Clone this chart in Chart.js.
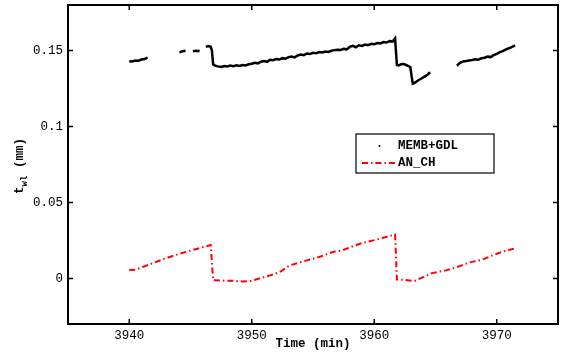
<!DOCTYPE html>
<html>
<head>
<meta charset="utf-8">
<script src="https://cdn.jsdelivr.net/npm/chart.js@4/dist/chart.umd.min.js"></script>
<style>
  html, body { margin: 0; padding: 0; background: #fff; }
  #wrap { width: 561px; height: 356px; position: relative; }
</style>
</head>
<body>
<div id="wrap"><canvas id="chart"></canvas></div>
<script>
// MEMB+GDL (black dots), null = gap in the record
const memTime = [
  3940.00, 3940.25, 3940.50, 3940.75, 3941.00, 3941.25, 3941.50, 3942.80,
  3944.10, 3944.35, 3944.60, 3944.90,
  3945.20, 3945.45, 3945.75, 3946.00,
  3946.25, 3946.45, 3946.65, 3946.75, 3946.85,
  3947.00, 3947.25, 3947.50, 3947.75, 3948.00, 3948.25, 3948.50, 3948.75,
  3949.00, 3949.25, 3949.50, 3949.75, 3950.00, 3950.25, 3950.50, 3950.75,
  3951.00, 3951.25, 3951.50, 3951.75, 3952.00, 3952.25, 3952.50, 3952.75,
  3953.00, 3953.25, 3953.50, 3953.75, 3954.00, 3954.25, 3954.50, 3954.75,
  3955.00, 3955.25, 3955.50, 3955.75, 3956.00, 3956.25, 3956.50, 3956.75,
  3957.00, 3957.25, 3957.50, 3957.75, 3958.00, 3958.25, 3958.50, 3958.75,
  3959.00, 3959.25, 3959.50, 3959.75, 3960.00, 3960.25, 3960.50, 3960.75,
  3961.00, 3961.25, 3961.50, 3961.70, 3961.85,
  3962.00, 3962.20, 3962.40, 3962.60, 3962.80, 3962.95, 3963.05, 3963.15,
  3963.35, 3963.60, 3963.85, 3964.10, 3964.35, 3964.55, 3965.50,
  3966.75, 3967.00, 3967.25, 3967.50, 3967.75, 3968.00, 3968.25, 3968.50,
  3968.75, 3969.00, 3969.25, 3969.50, 3969.75, 3970.00, 3970.25, 3970.50,
  3970.75, 3971.00, 3971.25, 3971.50
];
const memValue = [
  0.1430, 0.1428, 0.1435, 0.1433, 0.1441, 0.1444, 0.1453, null,
  0.1488, 0.1496, 0.1499, null,
  0.1495, 0.1499, 0.1497, null,
  0.1524, 0.1530, 0.1525, 0.1500, 0.1410,
  0.1401, 0.1396, 0.1392, 0.1398, 0.1395, 0.1401, 0.1397, 0.1403,
  0.1399, 0.1405, 0.1402, 0.1410, 0.1413, 0.1419, 0.1416, 0.1427,
  0.1431, 0.1426, 0.1440, 0.1437, 0.1445, 0.1441, 0.1450, 0.1446,
  0.1457, 0.1461, 0.1455, 0.1468, 0.1474, 0.1470, 0.1481, 0.1477,
  0.1485, 0.1482, 0.1490, 0.1487, 0.1494, 0.1491, 0.1499, 0.1503,
  0.1506, 0.1504, 0.1511, 0.1508, 0.1524, 0.1531, 0.1522, 0.1535,
  0.1531, 0.1540, 0.1536, 0.1545, 0.1542, 0.1550, 0.1547, 0.1556,
  0.1553, 0.1562, 0.1559, 0.1580, 0.1405,
  0.1402, 0.1410, 0.1412, 0.1405, 0.1398, 0.1390, 0.1330, 0.1282,
  0.1290, 0.1305, 0.1316, 0.1328, 0.1340, 0.1358, null,
  0.1400, 0.1420, 0.1428, 0.1431, 0.1435, 0.1438, 0.1442, 0.1440,
  0.1449, 0.1453, 0.1460, 0.1457, 0.1470, 0.1478, 0.1490, 0.1496,
  0.1508, 0.1515, 0.1524, 0.1534
];

// AN_CH (red dash-dot)
const anTime = [
  3940.0, 3940.5, 3941.0, 3942.0, 3943.0, 3944.0, 3945.0, 3946.0, 3946.65,
  3946.85, 3947.5, 3948.5, 3949.3, 3950.0, 3950.7, 3951.5, 3952.3, 3953.1,
  3954.5, 3955.5, 3956.7, 3957.4, 3958.2, 3959.0, 3960.0, 3960.65, 3961.7,
  3961.85, 3962.5, 3963.25, 3964.0, 3964.7, 3965.85, 3966.9, 3967.7, 3968.8,
  3969.6, 3970.4, 3971.4
];
const anValue = [
  0.0055, 0.0058, 0.0072, 0.0103, 0.0133, 0.0160, 0.0183, 0.0205, 0.0220,
  -0.0012, -0.0014, -0.0016, -0.0020, -0.0016, 0.0002, 0.0020, 0.0042, 0.0086,
  0.0119, 0.0141, 0.0176, 0.0185, 0.0210, 0.0233, 0.0252, 0.0266, 0.0289,
  -0.0007, -0.0010, -0.0018, 0.0008, 0.0035, 0.0053, 0.0078, 0.0104, 0.0123,
  0.0150, 0.0174, 0.0196
];

const seriesLabels = ["MEMB+GDL", "AN_CH"];
const xTicks = [3940, 3950, 3960, 3970];
const xTickLabels = ["3940", "3950", "3960", "3970"];
const yTicks = [0, 0.05, 0.1, 0.15];
const yTickLabels = ["0", "0.05", "0.1", "0.15"];

const MONO = "'Liberation Mono', 'Courier New', monospace";

// box, inward ticks, legend and y title, drawn the matlab way
const framePlugin = {
  id: "frame",
  afterDatasetsDraw(chart) {
    const { ctx, chartArea: a, scales } = chart;
    ctx.save();
    ctx.strokeStyle = "#000";
    ctx.lineWidth = 1.5;
    ctx.beginPath();
    xTicks.forEach((v) => {
      const px = scales.x.getPixelForValue(v);
      ctx.moveTo(px, a.bottom);
      ctx.lineTo(px, a.bottom - 5);
      ctx.moveTo(px, a.top);
      ctx.lineTo(px, a.top + 5);
    });
    yTicks.forEach((v) => {
      const py = scales.y.getPixelForValue(v);
      ctx.moveTo(a.left, py);
      ctx.lineTo(a.left + 5, py);
      ctx.moveTo(a.right, py);
      ctx.lineTo(a.right - 5, py);
    });
    ctx.stroke();
    ctx.lineWidth = 2;
    ctx.strokeRect(a.left, a.top, a.right - a.left, a.bottom - a.top);

    // legend box
    const ds = chart.data.datasets;
    ctx.fillStyle = "#fff";
    ctx.fillRect(356, 134, 138, 39);
    ctx.lineWidth = 1.2;
    ctx.strokeRect(356, 134, 138, 39);
    ctx.font = "bold 12.5px " + MONO;
    ctx.textBaseline = "middle";
    ctx.fillStyle = "#000";
    ctx.fillText(ds[0].label, 398, 146);
    ctx.fillText(ds[1].label, 398, 163);
    ctx.beginPath();
    ctx.arc(379.5, 146, 1, 0, Math.PI * 2);
    ctx.fill();
    ctx.strokeStyle = ds[1].borderColor;
    ctx.lineWidth = 2;
    ctx.setLineDash(ds[1].borderDash);
    ctx.beginPath();
    ctx.moveTo(362, 163);
    ctx.lineTo(395, 163);
    ctx.stroke();
    ctx.setLineDash([]);

    // y title: t_wl (mm)
    ctx.translate(20, 194);
    ctx.rotate(-Math.PI / 2);
    ctx.fillStyle = "#000";
    ctx.textBaseline = "middle";
    ctx.font = "bold 12.5px " + MONO;
    ctx.fillText("t", 0, 0);
    ctx.font = "bold 9px " + MONO;
    ctx.fillText("wl", 7.5, 5);
    ctx.font = "bold 12.5px " + MONO;
    ctx.fillText(" (mm)", 18.5, 0);
    ctx.restore();
  },
};

document.addEventListener("DOMContentLoaded", () => {
  const ctx = document.getElementById("chart").getContext("2d");
  new Chart(ctx, {
    type: "line",
    data: {
      datasets: [
        {
          label: seriesLabels[0],
          data: memTime.map((t, i) => ({ x: t, y: memValue[i] })),
          borderColor: "#000",
          borderWidth: 2.5,
          pointRadius: 0,
          spanGaps: false,
          tension: 0,
        },
        {
          label: seriesLabels[1],
          data: anTime.map((t, i) => ({ x: t, y: anValue[i] })),
          borderColor: "#ff0000",
          borderWidth: 2,
          borderDash: [6, 3, 1.5, 3],
          pointRadius: 0,
          tension: 0,
        },
      ],
    },
    options: {
      responsive: true,
      maintainAspectRatio: false,
      animation: false,
      layout: { padding: { left: 0, right: 3, top: 5, bottom: 0 } },
      scales: {
        x: {
          type: "linear",
          min: 3935,
          max: 3975,
          afterBuildTicks: (scale) => {
            scale.ticks = xTicks.map((v) => ({ value: v }));
          },
          afterFit: (scale) => {
            scale.height = 32;
            scale.paddingLeft = 0;
            scale.paddingRight = 0;
          },
          grid: { display: false, drawTicks: false },
          border: { display: false },
          ticks: {
            color: "#000",
            padding: 4,
            maxRotation: 0,
            font: { family: MONO, size: 12.5 },
            callback: (v) => xTickLabels[xTicks.indexOf(v)] ?? "",
          },
          title: {
            display: true,
            text: "Time (min)",
            color: "#000",
            padding: { top: 0, bottom: 5 },
            font: { family: MONO, size: 12.5, weight: "bold" },
          },
        },
        y: {
          min: -0.03,
          max: 0.18,
          afterBuildTicks: (scale) => {
            scale.ticks = yTicks.map((v) => ({ value: v }));
          },
          afterFit: (scale) => {
            scale.width = 68;
            scale.paddingTop = 0;
            scale.paddingBottom = 0;
          },
          grid: { display: false, drawTicks: false },
          border: { display: false },
          ticks: {
            color: "#000",
            padding: 5,
            font: { family: MONO, size: 12.5 },
            callback: (v) => yTickLabels[yTicks.indexOf(v)] ?? "",
          },
        },
      },
      plugins: {
        legend: { display: false },
        tooltip: { enabled: false },
      },
    },
    plugins: [framePlugin],
  });
});
</script>
</body>
</html>
